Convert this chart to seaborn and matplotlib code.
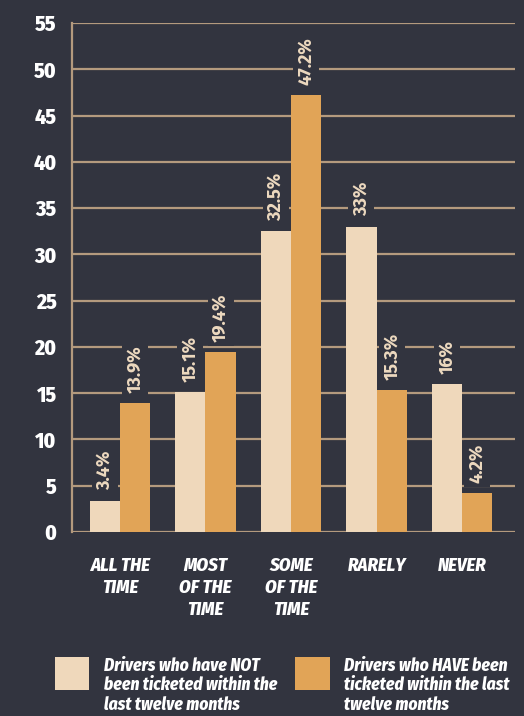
import matplotlib
matplotlib.use("Agg")
import matplotlib.pyplot as plt
import seaborn as sns
import pandas as pd
from matplotlib import font_manager

categories = ["ALL THE\nTIME", "MOST\nOF THE\nTIME", "SOME\nOF THE\nTIME", "RARELY", "NEVER"]
series_names = ["Drivers who have NOT\nbeen ticketed within the\nlast twelve months",
                "Drivers who HAVE been\nticketed within the last\ntwelve months"]
not_ticketed = [3.4, 15.1, 32.5, 33, 16]
ticketed = [13.9, 19.4, 47.2, 15.3, 4.2]
yticks = [0, 5, 10, 15, 20, 25, 30, 35, 40, 45, 50, 55]

BG = "#32343F"
LIGHT = "#EFD8BB"
ORANGE = "#E1A457"
GRID = "#B49A7E"
LABEL = "#EDD9BF"

available = {f.name for f in font_manager.fontManager.ttflist}


def pick(prefs):
    for p in prefs:
        if p in available:
            return p
    return "DejaVu Sans"


COND = pick(["Fira Sans Condensed", "Asap Condensed", "Roboto Condensed",
             "Barlow Semi Condensed", "Encode Sans Condensed", "Open Sans Condensed",
             "PT Sans Narrow", "Liberation Sans Narrow"])
SANS = pick(["Fira Sans", "PT Sans", "Open Sans"])

sns.set_theme(style="white")
plt.rcParams["font.family"] = [SANS, "DejaVu Sans"]

df = pd.DataFrame({
    "category": categories * 2,
    "series": [series_names[0]] * 5 + [series_names[1]] * 5,
    "value": not_ticketed + ticketed,
})

fig = plt.figure(figsize=(5.24, 7.16), dpi=100, facecolor=BG)
ax = fig.add_axes([0.1374, 0.257, 0.983 - 0.1374, 0.9679 - 0.257])
ax.set_facecolor(BG)

sns.barplot(data=df, x="category", y="value", hue="series", order=categories,
            hue_order=series_names, palette=[LIGHT, ORANGE], width=0.71,
            saturation=1, ax=ax, zorder=2, linewidth=0)

ax.set_ylim(0, 55)
ax.set_xlim(-0.56, 4.62)
ax.set_yticks(yticks)
ax.set_yticklabels([str(t) for t in yticks], color="white", fontsize=15.5,
                   fontweight="heavy", family=[COND, "DejaVu Sans"])
ax.yaxis.grid(True, color=GRID, linewidth=1.6, zorder=0)
ax.set_axisbelow(True)
for s in ["top", "right", "bottom"]:
    ax.spines[s].set_visible(False)
ax.spines["left"].set_color(GRID)
ax.spines["left"].set_linewidth(1.6)
ax.tick_params(axis="y", length=0, pad=11)
ax.tick_params(axis="x", length=0, pad=18)
ax.set_xlabel("")
ax.set_ylabel("")
for lab in ax.get_xticklabels():
    lab.set_color("white")
    lab.set_fontsize(13.5)
    lab.set_fontweight("heavy")
    lab.set_fontstyle("italic")
    lab.set_family([COND, "DejaVu Sans"])
    lab.set_linespacing(1.3)
    lab.set_verticalalignment("top")

for cont, vals in zip(ax.containers, [not_ticketed, ticketed]):
    for bar, v in zip(cont, vals):
        ax.text(bar.get_x() + bar.get_width() / 2, bar.get_height() + 1.1,
                f"{v:g}%", rotation=90, ha="center", va="bottom",
                color=LABEL, fontsize=13, fontweight="bold", zorder=3,
                family=[SANS, "DejaVu Sans"],
                bbox=dict(facecolor=BG, edgecolor="none", pad=3))

sns.move_legend(ax, "upper left", bbox_to_anchor=(0.091, 0.0925),
                bbox_transform=fig.transFigure, ncol=2, frameon=False, title=None,
                fontsize=12.5, handlelength=2.0, handleheight=2.55,
                handletextpad=0.85, columnspacing=1.0, borderaxespad=0)
leg = ax.get_legend()
for t in leg.get_texts():
    t.set_color("white")
    t.set_fontweight("heavy")
    t.set_fontstyle("italic")
    t.set_family([COND, "DejaVu Sans"])
    t.set_linespacing(1.15)
try:
    for col in leg._legend_handle_box.get_children():
        for row in col.get_children():
            row.align = "top"
except Exception:
    pass

fig.savefig("out.png", dpi=100, facecolor=BG)
